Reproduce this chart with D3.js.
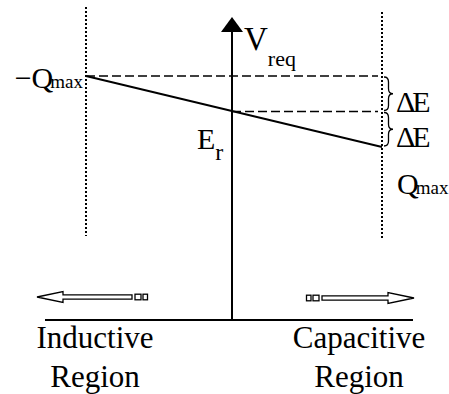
<!DOCTYPE html>
<html>
<head>
<meta charset="utf-8">
<script src="https://cdn.jsdelivr.net/npm/d3@7"></script>
</head>
<body style="margin:0">
<div id="chartDiv"></div>
<script>
// Q goes from -Qmax to Qmax, V in units of ΔE around Er (= 0)
const qEnds = [-1, 1];
const vLine = [1, -1];
// dashed reference levels: where they start (q) and their V level
const dashStart = [-1, 0];
const dashLevel = [1, 0];
// the two ΔE steps marked by braces
const braceTop = [1, 0];
const braceBottom = [0, -1];
const regionNames = [["Inductive", "Region"], ["Capacitive", "Region"]];

const W = 449, H = 394;
const baseY = 320;

function fontStyle(px) {
  return `font-family: "Times New Roman", "Liberation Serif", serif; font-size: ${px}px;`;
}

const svg = d3.select("#chartDiv").append("svg")
  .attr("width", W).attr("height", H);

const x = d3.scaleLinear().domain([-1, 0, 1]).range([86, 232, 382]);
const y = d3.scaleLinear().domain([-1, 1]).range([147, 76]);

// dotted limits at -Qmax and Qmax
svg.selectAll(".limit")
  .data([{ q: -1, y0: 7, y1: 236 }, { q: 1, y0: 12, y1: 240 }])
  .enter().append("line")
  .attr("class", "limit")
  .attr("x1", d => x(d.q)).attr("x2", d => x(d.q))
  .attr("y1", d => d.y0).attr("y2", d => d.y1)
  .attr("stroke", "#000").attr("stroke-width", 2)
  .attr("stroke-dasharray", "2,2");

// baseline
svg.append("line")
  .attr("x1", 45).attr("x2", 413)
  .attr("y1", baseY).attr("y2", baseY)
  .attr("stroke", "#000").attr("stroke-width", 2);

// vertical V axis with arrowhead
const ax = x(0);
svg.append("line")
  .attr("x1", ax).attr("x2", ax)
  .attr("y1", baseY).attr("y2", 30)
  .attr("stroke", "#000").attr("stroke-width", 2);
svg.append("path")
  .attr("d", `M${ax},17 L${ax - 11},32 L${ax + 11},32 Z`)
  .attr("fill", "#000");

// dashed levels
svg.selectAll(".lvl")
  .data(dashLevel)
  .enter().append("line")
  .attr("class", "lvl")
  .attr("x1", (d, i) => x(dashStart[i]))
  .attr("x2", x(1) - 4)
  .attr("y1", d => y(d)).attr("y2", d => y(d))
  .attr("stroke", "#000").attr("stroke-width", 1.5)
  .attr("stroke-dasharray", "9,4");

// characteristic line
const line = d3.line().x(d => x(d[0])).y(d => y(d[1]));
svg.append("path")
  .datum(qEnds.map((q, i) => [q, vLine[i]]))
  .attr("d", line)
  .attr("fill", "none").attr("stroke", "#000").attr("stroke-width", 1.8);

// braces
function bracePath(x0, ya, yb, w) {
  const h = yb - ya, ym = (ya + yb) / 2, xm = x0 + w / 2;
  const r = Math.min(5, h * 0.15);
  return `M${x0},${ya} Q${xm},${ya} ${xm},${ya + r} L${xm},${ym - r} Q${xm},${ym} ${x0 + w},${ym}` +
         ` Q${xm},${ym} ${xm},${ym + r} L${xm},${yb - r} Q${xm},${yb} ${x0},${yb}`;
}
svg.selectAll(".brace")
  .data(braceTop.map((v, i) => [v, braceBottom[i]]))
  .enter().append("path")
  .attr("class", "brace")
  .attr("d", d => bracePath(x(1) + 2, y(d[0]) + 1, y(d[1]) - 1, 9))
  .attr("fill", "none").attr("stroke", "#000").attr("stroke-width", 1.3);

svg.selectAll(".dE")
  .data(braceTop.map((v, i) => (v + braceBottom[i]) / 2))
  .enter().append("text")
  .attr("class", "dE")
  .attr("x", x(1) + 14)
  .attr("y", d => y(d) + 18)
  .attr("style", fontStyle(30) + " letter-spacing: -3px;")
  .text("ΔE");

// labels with a subscript
function subLabel(xp, yp, main, sub, fs, sfs, sdx, sdy, anchor) {
  const t = svg.append("text").attr("x", xp).attr("y", yp)
    .attr("text-anchor", anchor || "start")
    .attr("style", fontStyle(fs));
  t.append("tspan").attr("style", fontStyle(fs)).text(main);
  t.append("tspan").attr("style", fontStyle(sfs))
    .attr("dx", sdx).attr("dy", sdy).text(sub);
  return t;
}
subLabel(x(-1) - 3, y(1) + 12, "−Q", "max", 30, 19, -3, 0, "end");
subLabel(x(1) + 15, 194, "Q", "max", 30, 19, -3, 0);
subLabel(ax + 12, 50, "V", "req", 33, 22, 0, 16);
subLabel(197, 149, "E", "r", 30, 24, 0, 11);

// region labels
const regionX = [95, 359];
regionNames.forEach((lines, i) => {
  lines.forEach((s, j) => {
    svg.append("text")
      .attr("x", regionX[i]).attr("y", 348 + j * 39)
      .attr("text-anchor", "middle")
      .attr("style", fontStyle(31))
      .text(s);
  });
});

// hollow direction arrows
function hollowArrow(dir, tipX, tailX, cy) {
  const hb = tipX - dir * 26;
  return `M${tipX},${cy} L${hb},${cy - 5.5} L${hb},${cy - 2.2} L${tailX},${cy - 2.2} L${tailX},${cy + 2.2}` +
         ` L${hb},${cy + 2.2} L${hb},${cy + 5.5} Z`;
}
const arrows = [{ dir: -1, tip: 37, tail: 132, cy: 297 }, { dir: 1, tip: 414, tail: 322, cy: 298 }];
arrows.forEach(a => {
  svg.append("path").attr("d", hollowArrow(a.dir, a.tip, a.tail, a.cy))
    .attr("fill", "#fff").attr("stroke", "#000").attr("stroke-width", 1.3);
  const s1 = a.tail - a.dir * 3, s2 = a.tail - a.dir * 11;
  svg.append("rect").attr("x", Math.min(s1, s1 - a.dir * 6)).attr("y", a.cy - 2.8)
    .attr("width", 6).attr("height", 5.6)
    .attr("fill", "#fff").attr("stroke", "#000").attr("stroke-width", 1.3);
  svg.append("rect").attr("x", Math.min(s2, s2 - a.dir * 4.5)).attr("y", a.cy - 2.8)
    .attr("width", 4.5).attr("height", 5.6)
    .attr("fill", "#fff").attr("stroke", "#000").attr("stroke-width", 1.3);
});
</script>
</body>
</html>
